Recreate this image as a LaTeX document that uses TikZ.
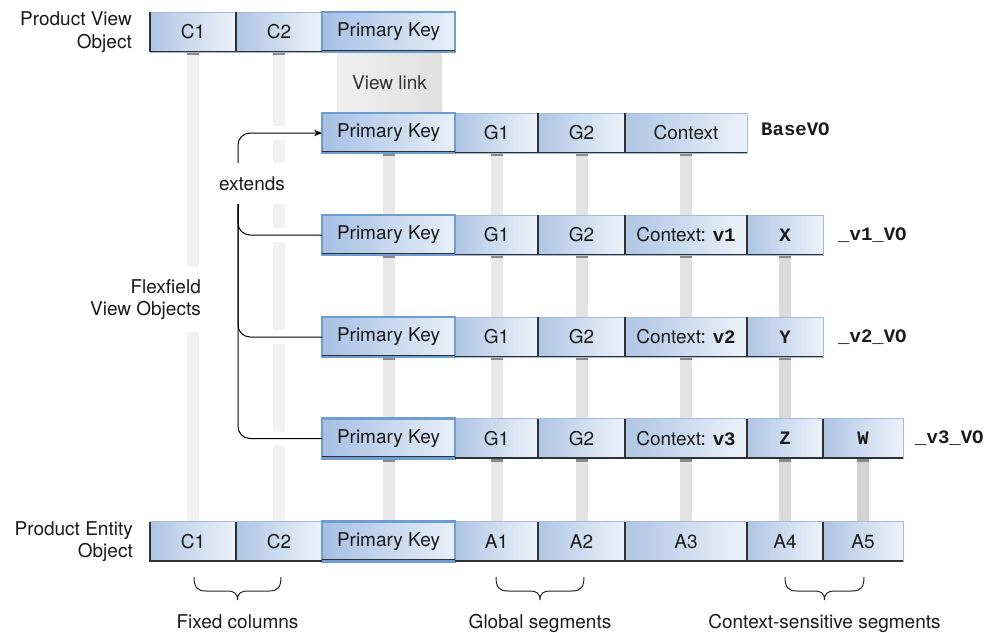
\documentclass[tikz,border=0pt]{standalone}
\usepackage{fontspec}
\setmainfont{TeX Gyre Heros}
\newfontfamily\monofont{Liberation Mono}
\usetikzlibrary{arrows.meta}
\pgfdeclarelayer{barlayer}
\pgfsetlayers{barlayer,main}

\definecolor{cdark}{HTML}{AEC5E4}
\definecolor{clight}{HTML}{EDF2FA}
\definecolor{pkdark}{HTML}{A5BFE3}
\definecolor{pklight}{HTML}{E8EFF9}
\definecolor{pkborder}{HTML}{6E9DD3}
\definecolor{cellline}{HTML}{A3BBDB}
\definecolor{sepcol}{HTML}{303030}
\definecolor{txt}{HTML}{1A1A1A}
\definecolor{barA}{HTML}{F2F2F2}
\definecolor{barB}{HTML}{E8E8E8}
\definecolor{barC}{HTML}{E3E3E3}
\definecolor{barD}{HTML}{DADADA}
\definecolor{barE}{HTML}{D3D3D3}
\definecolor{stubcol}{HTML}{8A8A8A}
\definecolor{vlA}{HTML}{EFEFEF}
\definecolor{vlB}{HTML}{E0E0E0}

\newcommand\mv[1]{{\monofont\bfseries #1}}
\newcommand\mybrace[3]{%
  \draw[bracecurve] (#1,#3) .. controls (#1,{#3+10}) and ({#1+3},{#3+14}) .. ({#1+12},{#3+14})
    -- ({(#1+#2)/2-10},{#3+14}) .. controls ({(#1+#2)/2-4},{#3+14}) and ({(#1+#2)/2},{#3+16}) .. ({(#1+#2)/2},{#3+23})
    .. controls ({(#1+#2)/2},{#3+16}) and ({(#1+#2)/2+4},{#3+14}) .. ({(#1+#2)/2+10},{#3+14})
    -- ({#2-12},{#3+14}) .. controls ({#2-3},{#3+14}) and (#2,{#3+10}) .. (#2,#3);}

\tikzset{
  every node/.style={font=\fontsize{19}{22.5}\selectfont, text=txt},
  cell/.style={rectangle, minimum height=40pt, inner sep=0pt, outer sep=0pt,
    draw=cellline, line width=0.8pt, left color=cdark, right color=clight},
  pkcell/.style={cell, draw=pkborder, line width=2.5pt, left color=pkdark, right color=pklight},
  sepline/.style={draw=sepcol, line width=1.3pt},
  bar/.style={line width=12pt},
  halo/.style={draw=white, line width=14pt, rounded corners=12pt},
  extline/.style={draw=black, line width=1pt, rounded corners=12pt},
  vlabel/.style={anchor=west, inner sep=0pt, font=\monofont\bfseries\fontsize{19}{22}\selectfont},
  sidelabel/.style={align=right, anchor=east, inner sep=2pt},
  bracecurve/.style={draw=black!85, line width=1pt},
  viewlink/.style={rectangle, minimum width=105pt, minimum height=61pt, inner sep=0pt,
    left color=vlA, right color=vlB, text=black!80},
}

\begin{document}
\begin{tikzpicture}[x=1pt,y=-1pt]
\useasboundingbox (0,0) rectangle (995,632);

% view link
\node[viewlink] (vl) at (389.5,82.5) {View link};

% ---- top row: Product View Object
\node[cell, minimum width=86pt] (tC1) at (193,32) {C1};
\node[cell, minimum width=86pt] (tC2) at (279,32) {C2};
\node[pkcell, minimum width=133pt] (tPK) at (388.5,32) {Primary Key};

% ---- BaseVO row
\node[cell, minimum width=83pt] (bG1) at (496.5,133) {G1};
\node[cell, minimum width=87pt] (bG2) at (581.5,133) {G2};
\node[cell, minimum width=122pt] (bCx) at (686,133) {Context};
\node[pkcell, minimum width=133pt] (bPK) at (388.5,133) {Primary Key};

% ---- v1 row
\node[cell, minimum width=83pt] (aG1) at (496.5,235) {G1};
\node[cell, minimum width=87pt] (aG2) at (581.5,235) {G2};
\node[cell, minimum width=122pt] (aCx) at (686,235) {Context: \mv{v1}};
\node[cell, minimum width=76pt] (aX) at (785,235) {\mv{X}};
\node[pkcell, minimum width=133pt] (aPK) at (388.5,235) {Primary Key};

% ---- v2 row
\node[cell, minimum width=83pt] (vG1) at (496.5,337) {G1};
\node[cell, minimum width=87pt] (vG2) at (581.5,337) {G2};
\node[cell, minimum width=122pt] (vCx) at (686,337) {Context: \mv{v2}};
\node[cell, minimum width=76pt] (vY) at (785,337) {\mv{Y}};
\node[pkcell, minimum width=133pt] (vPK) at (388.5,337) {Primary Key};

% ---- v3 row
\node[cell, minimum width=83pt] (cG1) at (496.5,438.5) {G1};
\node[cell, minimum width=87pt] (cG2) at (581.5,438.5) {G2};
\node[cell, minimum width=122pt] (cCx) at (686,438.5) {Context: \mv{v3}};
\node[cell, minimum width=76pt] (cZ) at (785,438.5) {\mv{Z}};
\node[cell, minimum width=80pt] (cW) at (863,438.5) {\mv{W}};
\node[pkcell, minimum width=133pt] (cPK) at (388.5,438.5) {Primary Key};

% ---- bottom row: Product Entity Object
\node[cell, minimum width=86pt] (eC1) at (193,541.5) {C1};
\node[cell, minimum width=86pt] (eC2) at (279,541.5) {C2};
\node[cell, minimum width=83pt] (eA1) at (496.5,541.5) {A1};
\node[cell, minimum width=87pt] (eA2) at (581.5,541.5) {A2};
\node[cell, minimum width=122pt] (eA3) at (686,541.5) {A3};
\node[cell, minimum width=76pt] (eA4) at (785,541.5) {A4};
\node[cell, minimum width=80pt] (eA5) at (863,541.5) {A5};
\node[pkcell, minimum width=133pt] (ePK) at (388.5,541.5) {Primary Key};

% ---- dark separators and row bottoms
\foreach \n in {tC1,tC2,bG1,bG2,bCx,aG1,aG2,aCx,aX,vG1,vG2,vCx,vY,cG1,cG2,cCx,cZ,cW,eC1,eC2,eA1,eA2,eA3,eA4,eA5}{
  \draw[sepline] ([yshift=0.6pt]\n.south west) -- ([yshift=0.6pt]\n.south east);
}
\foreach \n in {bPK,aPK,vPK,cPK,tPK,ePK}{
  \draw[draw=sepcol, line width=1pt] ([yshift=1.8pt]\n.south west) -- ([yshift=1.8pt]\n.south east);
}
\foreach \n in {tC1,bG1,bG2,aG1,aG2,aCx,vG1,vG2,vCx,cG1,cG2,cCx,cZ,eC1,eA1,eA2,eA3,eA4}{
  \draw[sepline] (\n.north east) -- (\n.south east);
}
\draw[sepline] (tC1.north west) -- (tC1.south west);
\draw[sepline] (eC1.north west) -- (eC1.south west);

% ---- labels
\node[sidelabel] (pvo) at (134,32) {Product View\\Object};
\node[sidelabel] (peo) at (135,541.5) {Product Entity\\Object};
\node[sidelabel, fill=white, minimum height=65pt] (flex) at (203,299.5) {Flexfield\\View Objects};

\node[vlabel] (lbase) at (761,129) {BaseVO};
\node[vlabel] (lv1) at (838,235) {\_v1\_VO};
\node[vlabel] (lv2) at (838,337) {\_v2\_VO};
\node[vlabel] (lv3) at (915,438.5) {\_v3\_VO};

% ---- extends
\node[fill=white, inner xsep=3pt, inner ysep=0pt, minimum height=41pt] (ext) at (252,183.5) {extends};
\coordinate (trk) at (238,300);
\draw[extline, -{Stealth[length=8pt,width=6.5pt]}] (ext.north -| trk) |- (bPK.west);
\draw[extline] (ext.south -| trk) |- (aPK.west);
\draw[extline] (ext.south -| trk) |- (vPK.west);
\draw[extline] (ext.south -| trk) |- (cPK.west);

% ---- bars behind
\begin{pgfonlayer}{barlayer}
  \draw[bar, barA] (tC1.south) -- (eC1.north);
  \draw[bar, barA] (tC2.south) -- (eC2.north);
  \draw[bar, barB] (bPK.south) -- (ePK.north);
  \draw[bar, barB] (bG1.south) -- (eA1.north);
  \draw[bar, barC] (bG2.south) -- (eA2.north);
  \draw[bar, barC] (bCx.south) -- (eA3.north);
  \draw[bar, barD] (aX.south) -- (eA4.north);
  \draw[bar, barE] (cW.south) -- (eA5.north);
  \foreach \n in {tC1,tC2,bPK,bG1,bG2,bCx,aPK,aG1,aG2,aCx,aX,vPK,vG1,vG2,vCx,vY,cPK,cG1,cG2,cCx,cZ,cW}{
    \fill[stubcol] ([xshift=-6pt]\n.south) rectangle ([xshift=6pt,yshift=-3pt]\n.south);
  }
  \draw[halo] (ext.north -| trk) |- (bPK.west);
  \draw[halo] (ext.south -| trk) |- (aPK.west);
  \draw[halo] (ext.south -| trk) |- (vPK.west);
  \draw[halo] (ext.south -| trk) |- (cPK.west);
\end{pgfonlayer}

% ---- braces and captions
\mybrace{194}{281}{577}
\mybrace{496}{584}{577}
\mybrace{785}{864}{577}
\node[anchor=base] (cfix) at (237.5,628) {Fixed columns};
\node[anchor=base] (cglob) at (540,628) {Global segments};
\node[anchor=base] (cctx) at (824.5,628) {Context-sensitive segments};
\end{tikzpicture}
\end{document}
